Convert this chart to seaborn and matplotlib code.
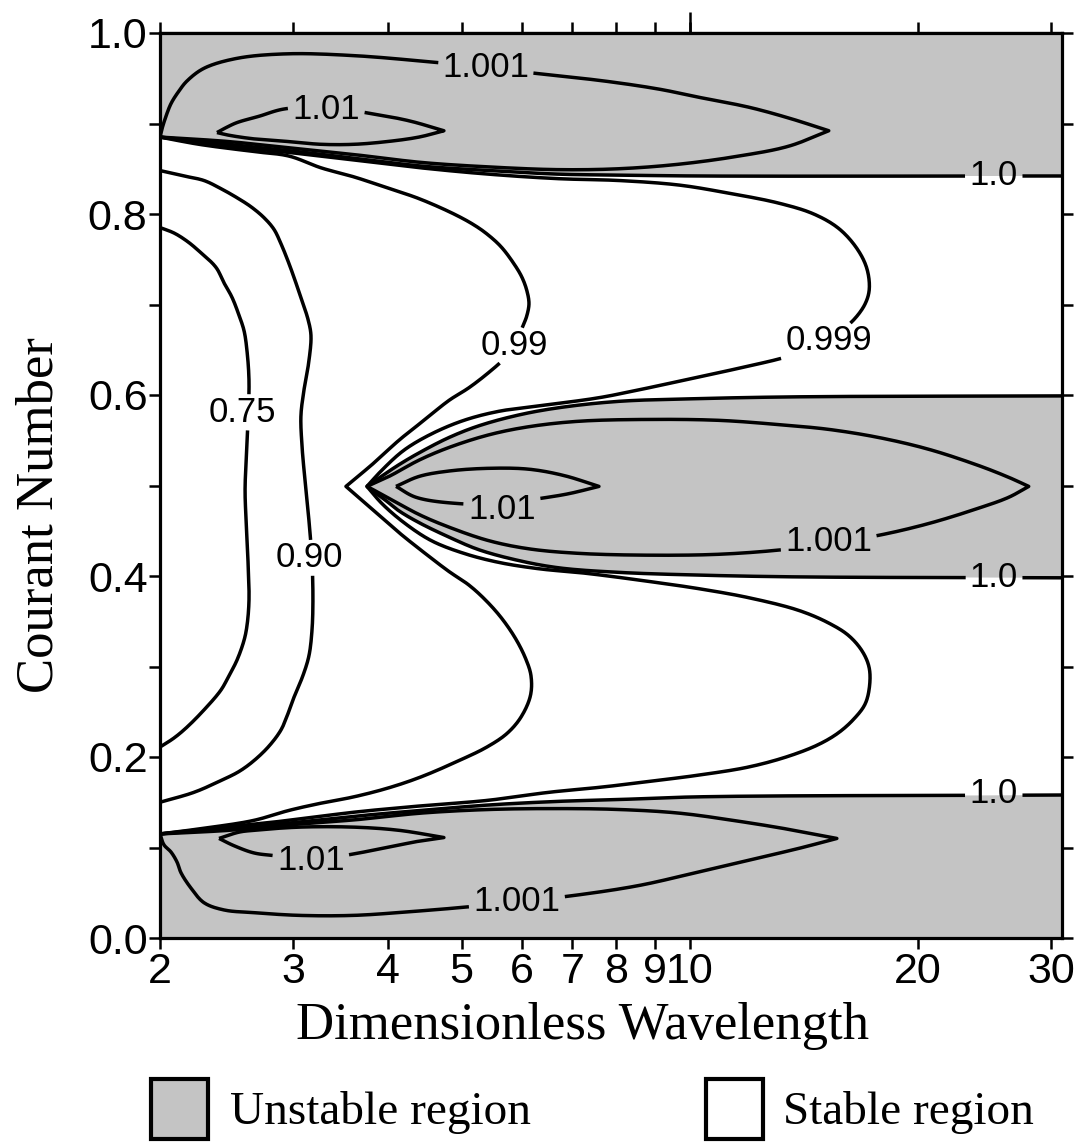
import numpy as np
import matplotlib
matplotlib.use("Agg")
import matplotlib.pyplot as plt
import seaborn as sns
from matplotlib.patches import Rectangle
from matplotlib.ticker import FixedLocator, NullLocator

sns.set_theme(style="ticks")
plt.rcParams['font.family'] = ['Liberation Sans', 'DejaVu Sans']
plt.rcParams.update({"text.color": "black", "xtick.color": "black", "ytick.color": "black",
                     "axes.edgecolor": "black", "axes.labelcolor": "black"})
SANS = ['Liberation Sans', 'DejaVu Sans']
SERIF = ['Liberation Serif', 'DejaVu Serif']

# ---------------- axes ranges / ticks ----------------
X_MIN, X_MAX = 2.0, 31.0
Y_MIN, Y_MAX = 0.0, 1.0
x_tick_values = [2, 3, 4, 5, 6, 7, 8, 9, 10, 20, 30]
x_tick_labels = ["2", "3", "4", "5", "6", "7", "8", "9", "10", "20", "30"]
y_tick_values = [0.0, 0.2, 0.4, 0.6, 0.8, 1.0]
y_tick_labels = ["0.0", "0.2", "0.4", "0.6", "0.8", "1.0"]
y_minor_values = [0.1, 0.3, 0.5, 0.7, 0.9]

# ---------------- contour lines (wavelength, Courant number) ----------------
c075_x = [2.000, 2.087, 2.171, 2.252, 2.371, 2.429, 2.489, 2.543, 2.582, 2.605, 2.621, 2.613, 2.598,
          2.590, 2.598, 2.613, 2.621, 2.605, 2.582, 2.527, 2.467, 2.407, 2.286, 2.171, 2.087, 2.000]
c075_y = [0.785, 0.779, 0.770, 0.759, 0.741, 0.724, 0.708, 0.688, 0.671, 0.649, 0.616, 0.572, 0.528,
          0.494, 0.461, 0.417, 0.373, 0.345, 0.329, 0.307, 0.290, 0.274, 0.252, 0.233, 0.221, 0.211]

c090_x = [2.000, 2.151, 2.286, 2.407, 2.527, 2.637, 2.743, 2.828, 2.889, 2.951, 3.005, 3.079, 3.135,
          3.164, 3.145, 3.097, 3.069, 3.079, 3.107, 3.145, 3.174, 3.183, 3.174, 3.145, 3.088, 3.005,
          2.951, 2.889, 2.785, 2.661, 2.543, 2.407, 2.218, 2.000]
c090_y = [0.848, 0.842, 0.837, 0.828, 0.818, 0.808, 0.796, 0.783, 0.767, 0.748, 0.730, 0.704, 0.684,
          0.666, 0.638, 0.605, 0.577, 0.544, 0.506, 0.461, 0.417, 0.373, 0.340, 0.312, 0.290, 0.266,
          0.248, 0.230, 0.212, 0.196, 0.184, 0.174, 0.161, 0.150]

c099_x = [2.000, 2.252, 2.661, 2.960, 3.263, 3.606, 3.986, 4.393, 4.886, 5.191, 5.400, 5.635, 5.863,
          6.008, 6.099, 6.137, 6.099, 6.044, 5.863, 5.688, 5.433, 5.113, 4.812, 4.460, 4.134, 3.832,
          3.519, 3.832, 4.134, 4.460, 4.812, 5.113, 5.384, 5.652, 5.900, 6.080, 6.174, 6.165, 5.989,
          5.740, 5.400, 4.960, 4.420, 4.010, 3.606, 3.263, 2.960, 2.661, 2.321, 2.000]
c099_y = [0.885, 0.877, 0.869, 0.864, 0.851, 0.841, 0.829, 0.817, 0.800, 0.788, 0.778, 0.764, 0.745,
          0.730, 0.715, 0.701, 0.688, 0.679, 0.655, 0.640, 0.625, 0.608, 0.594, 0.572, 0.550, 0.525,
          0.499, 0.472, 0.448, 0.426, 0.405, 0.390, 0.373, 0.353, 0.330, 0.308, 0.290, 0.268, 0.244,
          0.226, 0.211, 0.196, 0.178, 0.166, 0.156, 0.149, 0.141, 0.130, 0.122, 0.115]

c0999_x = [2.000, 2.467, 2.960, 3.661, 4.420, 5.433, 6.723, 8.067, 9.678, 11.26, 13.11, 14.58, 15.73,
           16.62, 17.13, 17.26, 17.05, 16.50, 15.73, 14.81, 13.52, 11.97, 10.28, 8.835, 7.591, 6.325,
           5.601, 5.036, 4.563, 4.197, 3.926, 3.751, 3.926, 4.197, 4.563, 5.036, 5.601, 6.325, 7.297,
           8.835, 10.28, 11.97, 13.93, 15.26, 16.22, 16.92, 17.26, 17.26, 17.03, 16.47, 15.73, 14.81,
           13.52, 11.97, 10.28, 8.835, 7.707, 6.522, 5.400, 4.420, 3.606, 2.960, 2.467, 2.000]
c0999_y = [0.885, 0.875, 0.868, 0.859, 0.851, 0.844, 0.839, 0.837, 0.832, 0.823, 0.812, 0.800, 0.784,
           0.762, 0.740, 0.717, 0.701, 0.684, 0.669, 0.656, 0.643, 0.632, 0.620, 0.608, 0.597, 0.588,
           0.582, 0.572, 0.557, 0.539, 0.517, 0.499, 0.480, 0.459, 0.439, 0.425, 0.415, 0.408, 0.403,
           0.394, 0.386, 0.376, 0.362, 0.348, 0.334, 0.316, 0.298, 0.276, 0.258, 0.242, 0.227, 0.214,
           0.201, 0.189, 0.180, 0.173, 0.167, 0.161, 0.152, 0.146, 0.139, 0.130, 0.123, 0.115]

c100_top_x = [2.000, 2.467, 2.960, 3.661, 4.420, 5.433, 6.723, 8.067, 10.28, 31.0]
c100_top_y = [0.885, 0.877, 0.870, 0.861, 0.853, 0.848, 0.844, 0.843, 0.842, 0.842]

c100_mid_x = [3.751, 3.950, 4.134, 4.393, 4.812, 5.271, 5.953, 6.723, 8.067, 10.28, 13.93, 31.0]
c100_mid_upper_y = [0.499, 0.512, 0.523, 0.536, 0.553, 0.566, 0.578, 0.586, 0.593, 0.596, 0.598, 0.599]
c100_mid_lower_y = [0.499, 0.485, 0.472, 0.459, 0.443, 0.429, 0.417, 0.409, 0.404, 0.401, 0.399, 0.398]

c100_bot_x = [2.000, 2.467, 2.960, 3.661, 4.420, 5.433, 6.723, 8.067, 10.28, 31.0]
c100_bot_y = [0.115, 0.121, 0.127, 0.135, 0.141, 0.147, 0.151, 0.153, 0.156, 0.158]

c1001_top_x = [2.000, 2.012, 2.031, 2.068, 2.119, 2.171, 2.286, 2.527, 2.943, 3.606, 4.556, 5.384,
               6.174, 7.707, 9.108, 10.28, 11.97, 13.52, 15.26, 13.52, 11.61, 9.678, 8.067, 6.723,
               5.433, 4.420, 3.661, 2.960, 2.467, 2.000]
c1001_top_y = [0.885, 0.894, 0.905, 0.922, 0.936, 0.947, 0.961, 0.972, 0.977, 0.975, 0.968, 0.962,
               0.956, 0.947, 0.938, 0.929, 0.918, 0.906, 0.892, 0.875, 0.864, 0.855, 0.850, 0.849,
               0.852, 0.857, 0.865, 0.873, 0.880, 0.885]

c1001_mid_x = [3.751, 4.010, 4.393, 4.812, 5.433, 6.137, 7.144, 8.835, 10.93, 13.23, 15.26, 17.77,
               20.68, 24.07, 26.37, 28.02, 26.37, 24.07, 20.68, 17.77, 15.26, 13.23, 10.93, 8.835,
               7.144, 6.137, 5.433, 4.812, 4.393, 4.010, 3.751]
c1001_mid_y = [0.499, 0.510, 0.528, 0.542, 0.556, 0.565, 0.571, 0.573, 0.572, 0.567, 0.562, 0.553,
               0.540, 0.522, 0.509, 0.499, 0.487, 0.475, 0.458, 0.445, 0.436, 0.429, 0.424, 0.423,
               0.425, 0.430, 0.439, 0.454, 0.468, 0.486, 0.499]

c1001_bot_x = [2.000, 2.024, 2.068, 2.106, 2.132, 2.198, 2.286, 2.429, 2.661, 3.051, 3.606, 4.262,
               5.036, 5.917, 7.036, 8.571, 10.28, 11.97, 13.93, 15.64, 13.52, 11.61, 9.678, 8.067,
               6.723, 5.433, 4.420, 3.661, 2.960, 2.467, 2.000]
c1001_bot_y = [0.115, 0.103, 0.095, 0.084, 0.072, 0.055, 0.039, 0.031, 0.028, 0.025, 0.025, 0.029,
               0.034, 0.040, 0.047, 0.058, 0.073, 0.086, 0.099, 0.110, 0.120, 0.129, 0.138, 0.142,
               0.143, 0.142, 0.138, 0.131, 0.125, 0.119, 0.115]

c101_top_x = [2.378, 2.452, 2.527, 2.702, 2.915, 3.312, 3.797, 4.262, 4.739, 4.393, 3.986, 3.606,
              3.263, 2.960, 2.661, 2.467, 2.378]
c101_top_y = [0.890, 0.896, 0.901, 0.908, 0.916, 0.918, 0.911, 0.903, 0.892, 0.885, 0.880, 0.877,
              0.877, 0.880, 0.883, 0.887, 0.890]

c101_mid_x = [4.097, 4.393, 4.812, 5.433, 6.137, 6.826, 7.591, 6.930, 6.383, 5.652, 4.960, 4.353, 4.097]
c101_mid_y = [0.499, 0.510, 0.516, 0.519, 0.518, 0.511, 0.499, 0.491, 0.486, 0.480, 0.480, 0.487, 0.499]

c101_bot_x = [2.393, 2.543, 2.661, 3.051, 3.606, 4.134, 4.739, 4.393, 3.986, 3.552, 3.164, 2.828,
              2.661, 2.504, 2.393]
c101_bot_y = [0.110, 0.117, 0.119, 0.1225, 0.1225, 0.119, 0.111, 0.107, 0.100, 0.092, 0.086, 0.091,
              0.094, 0.102, 0.110]

# contour labels: text, wavelength, courant, line key
label_text = ["0.75", "0.90", "0.99", "0.999", "1.0", "1.0", "1.0",
              "1.001", "1.001", "1.001", "1.01", "1.01", "1.01"]
label_x = [2.566, 3.145, 5.863, 15.26, 25.2, 25.2, 25.2, 5.384, 15.26, 5.917, 3.312, 5.652, 3.164]
label_y = [0.581, 0.420, 0.655, 0.660, 0.842, 0.398, 0.160, 0.962, 0.438, 0.040, 0.916, 0.473, 0.086]
label_line = ["c075", "c090", "c099", "c0999", "c100_top", "c100_mid", "c100_bot",
              "c1001_top", "c1001_mid", "c1001_bot", "c101_top", "c101_mid", "c101_bot"]

legend_labels = ["Unstable region", "Stable region"]

SHADE = "#c4c4c4"
LW = 2.5

# ---------------- figure ----------------
fig = plt.figure(figsize=(10.84, 11.43), dpi=100)
fig.patch.set_facecolor("white")
ax = fig.add_axes([160 / 1084, 1 - 938 / 1143, (1062 - 160) / 1084, (938 - 33) / 1143])
ax.set_facecolor("white")
ax.set_xscale("log")
ax.set_xlim(X_MIN, X_MAX)
ax.set_ylim(Y_MIN, Y_MAX)

# shaded unstable regions (bounded by the 1.0 contour)
ax.fill(np.concatenate([c100_top_x, [X_MAX, X_MIN]]),
        np.concatenate([c100_top_y, [Y_MAX, Y_MAX]]), color=SHADE, lw=0, zorder=1)
ax.fill(np.concatenate([c100_mid_x, c100_mid_x[::-1]]),
        np.concatenate([c100_mid_upper_y, c100_mid_lower_y[::-1]]), color=SHADE, lw=0, zorder=1)
ax.fill(np.concatenate([c100_bot_x, [X_MAX, X_MIN]]),
        np.concatenate([c100_bot_y, [Y_MIN, Y_MIN]]), color=SHADE, lw=0, zorder=1)

contour_lines = {
    "c075": (c075_x, c075_y),
    "c090": (c090_x, c090_y),
    "c099": (c099_x, c099_y),
    "c0999": (c0999_x, c0999_y),
    "c100_top": (c100_top_x, c100_top_y),
    "c100_mid": (list(c100_mid_x[::-1]) + list(c100_mid_x[1:]),
                 list(c100_mid_upper_y[::-1]) + list(c100_mid_lower_y[1:])),
    "c100_bot": (c100_bot_x, c100_bot_y),
    "c1001_top": (c1001_top_x, c1001_top_y),
    "c1001_mid": (c1001_mid_x, c1001_mid_y),
    "c1001_bot": (c1001_bot_x, c1001_bot_y),
    "c101_top": (c101_top_x, c101_top_y),
    "c101_mid": (c101_mid_x, c101_mid_y),
    "c101_bot": (c101_bot_x, c101_bot_y),
}

# ticks
ax.xaxis.set_major_locator(FixedLocator(x_tick_values))
ax.xaxis.set_minor_locator(NullLocator())
ax.set_xticklabels(x_tick_labels, fontsize=31, family=SANS, color="black")
ax.yaxis.set_major_locator(FixedLocator(y_tick_values))
ax.yaxis.set_minor_locator(FixedLocator(y_minor_values))
ax.set_yticklabels(y_tick_labels, fontsize=31, family=SANS, color="black")
ax.tick_params(which="both", direction="out", top=True, right=True, labeltop=False,
               labelright=False, length=8, width=1.8, color="black")
ax.tick_params(axis="y", which="major", pad=1)
ax.tick_params(axis="x", which="major", pad=2)
for s in ax.spines.values():
    s.set_linewidth(2.3)
    s.set_color("black")
    s.set_zorder(4)

# the longer decade tick on the top axis
sec = ax.secondary_xaxis("top")
sec.xaxis.set_major_locator(FixedLocator([10]))
sec.xaxis.set_minor_locator(NullLocator())
sec.set_xticklabels([""])
sec.tick_params(direction="out", length=15, width=1.8, color="black")
sec.spines["top"].set_linewidth(2.3)

# contour labels
label_artists = {}
for t, lx, ly, key in zip(label_text, label_x, label_y, label_line):
    art = ax.text(lx, ly, t, ha="center", va="center", fontsize=25, family=SANS,
                  color="black", zorder=6)
    label_artists.setdefault(key, []).append(art)

fig.canvas.draw()
renderer = fig.canvas.get_renderer()


def catmull_rom(pts, n=16):
    """Centripetal Catmull-Rom through the read points (display space)."""
    if len(pts) < 3:
        return pts
    P = np.vstack([2 * pts[0] - pts[1], pts, 2 * pts[-1] - pts[-2]])
    out = [pts[:1]]
    for i in range(1, len(P) - 2):
        p0, p1, p2, p3 = P[i - 1], P[i], P[i + 1], P[i + 2]
        t0 = 0.0
        t1 = t0 + max(np.linalg.norm(p1 - p0), 1e-6) ** 0.5
        t2 = t1 + max(np.linalg.norm(p2 - p1), 1e-6) ** 0.5
        t3 = t2 + max(np.linalg.norm(p3 - p2), 1e-6) ** 0.5
        t = np.linspace(t1, t2, n + 1)[1:][:, None]
        a1 = (t1 - t) / (t1 - t0) * p0 + (t - t0) / (t1 - t0) * p1
        a2 = (t2 - t) / (t2 - t1) * p1 + (t - t1) / (t2 - t1) * p2
        a3 = (t3 - t) / (t3 - t2) * p2 + (t - t2) / (t3 - t2) * p3
        b1 = (t2 - t) / (t2 - t0) * a1 + (t - t0) / (t2 - t0) * a2
        b2 = (t3 - t) / (t3 - t1) * a2 + (t - t1) / (t3 - t1) * a3
        out.append((t2 - t) / (t2 - t1) * b1 + (t - t1) / (t2 - t1) * b2)
    return np.vstack(out)


def smooth_with_corners(pts):
    """Smooth the polyline but keep sharp tips (turns of more than 60 degrees)."""
    cuts = [0]
    for i in range(1, len(pts) - 1):
        a = pts[i] - pts[i - 1]
        b = pts[i + 1] - pts[i]
        c = np.dot(a, b) / (np.linalg.norm(a) * np.linalg.norm(b) + 1e-9)
        if c < 0.5:
            cuts.append(i)
    cuts.append(len(pts) - 1)
    pieces = []
    for s, e in zip(cuts[:-1], cuts[1:]):
        piece = catmull_rom(pts[s:e + 1])
        pieces.append(piece if not pieces else piece[1:])
    return np.vstack(pieces)


def densify(pts, step=1.0):
    out = [pts[:1]]
    for p0, p1 in zip(pts[:-1], pts[1:]):
        k = max(int(np.ceil(np.hypot(*(p1 - p0)) / step)), 1)
        t = np.arange(1, k + 1) / k
        out.append(p0 + (p1 - p0) * t[:, None])
    return np.vstack(out)


inv = ax.transData.inverted()
for key, (xs, ys) in contour_lines.items():
    disp = ax.transData.transform(np.column_stack([xs, ys]))
    disp = densify(smooth_with_corners(disp))
    keep = np.ones(len(disp), bool)
    for art in label_artists.get(key, []):
        bb = art.get_window_extent(renderer).padded(4, 1)
        keep &= ~((disp[:, 0] >= bb.x0) & (disp[:, 0] <= bb.x1) &
                  (disp[:, 1] >= bb.y0) & (disp[:, 1] <= bb.y1))
    edges = np.flatnonzero(np.diff(np.concatenate([[0], keep.astype(int), [0]])))
    for s, e in zip(edges[::2], edges[1::2]):
        seg = inv.transform(disp[s:e])
        if len(seg) > 1:
            sns.lineplot(x=seg[:, 0], y=seg[:, 1], sort=False, estimator=None, color="black",
                         linewidth=LW, ax=ax, legend=False, zorder=3,
                         solid_joinstyle="round", solid_capstyle="butt")

ax.set_xlim(X_MIN, X_MAX)
ax.set_ylim(Y_MIN, Y_MAX)
ax.set_xlabel("")
ax.set_ylabel("")

# axis titles
fig.text(583 / 1084, 1 - 1026 / 1143, "Dimensionless Wavelength", ha="center", va="center",
         fontsize=38, family=SERIF, color="black")
fig.text(40 / 1084, 1 - 515 / 1143, "Courant Number", ha="center", va="center",
         rotation=90, fontsize=38, family=SERIF, color="black")

# legend
fig.add_artist(Rectangle((151 / 1084, 1 - 1139 / 1143), 57 / 1084, 60 / 1143,
                         transform=fig.transFigure, facecolor=SHADE, edgecolor="black", lw=3))
fig.add_artist(Rectangle((706 / 1084, 1 - 1139 / 1143), 57 / 1084, 60 / 1143,
                         transform=fig.transFigure, facecolor="white", edgecolor="black", lw=3))
fig.text(230 / 1084, 1 - 1112 / 1143, legend_labels[0], ha="left", va="center",
         fontsize=34, family=SERIF, color="black")
fig.text(783 / 1084, 1 - 1112 / 1143, legend_labels[1], ha="left", va="center",
         fontsize=34, family=SERIF, color="black")

fig.savefig("out.png", dpi=100, facecolor="white")
